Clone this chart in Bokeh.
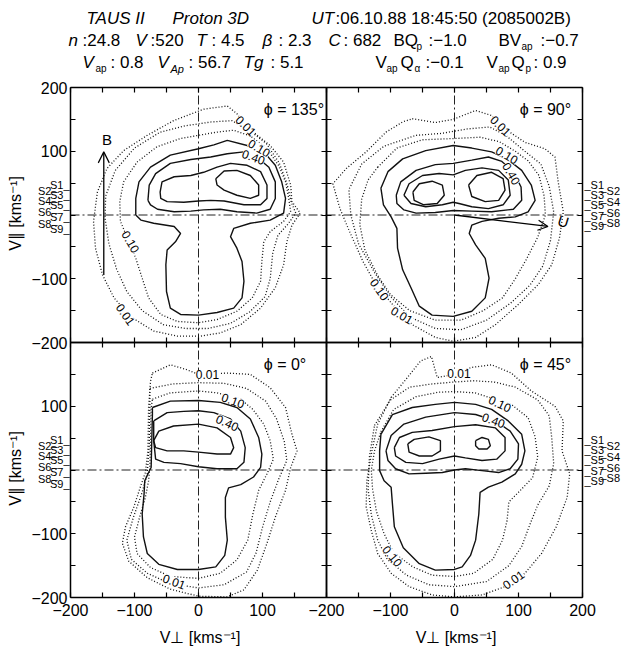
import math
from bokeh.plotting import figure
from bokeh.models import (Range1d, FixedTicker, LinearAxis, LabelSet, Label,
                          ColumnDataSource, Arrow, OpenHead)
from bokeh.transform import dodge
from bokeh.core.properties import value
from bokeh.embed import file_html
from bokeh.resources import INLINE

FONT = "Liberation Sans"

# ---------------------------------------------------------------- data
PANEL_KEYS = ["phi135", "phi90", "phi0", "phi45"]
PANEL_TITLES = ["\u03d5 = 135\u00b0", "\u03d5 = 90\u00b0", "\u03d5 = 0\u00b0", "\u03d5 = 45\u00b0"]

X_TICK_VALUES = [-200, -100, 0, 100, 200]
Y_TICK_VALUES = [-200, -100, 100, 200]
MINOR_STEP = 50

# contour polylines (V_perp, V_par) in km/s
PHI135_DOT_001 = [(8, 166), (45, 171), (60, 159), (74, 140), (92, 125), (112, 109), (133, 83), (144, 47),
                  (146, 21), (159, 3), (146, -16), (138, -42), (133, -78), (120, -114), (97, -146),
                  (66, -172), (34, -185), (3, -190), (-33, -190), (-70, -182), (-104, -161), (-132, -130),
                  (-150, -94), (-161, -52), (-164, -10), (-158, 36), (-143, 73), (-117, 101), (-80, 125),
                  (-39, 148), (8, 166)]
PHI135_DOT_003 = [(-130, 70), (-100, 105), (-60, 130), (-20, 140), (20, 146), (52, 148), (78, 134),
                  (106, 112), (126, 82), (138, 50), (145, 20), (152, 3), (140, -14), (124, -32), (116, -60),
                  (112, -100), (104, -128), (80, -152), (50, -170), (15, -178), (-20, -178), (-55, -172),
                  (-88, -150), (-112, -120), (-128, -85), (-140, -45), (-146, -5), (-145, 30), (-130, 70)]
PHI135_DOT_010 = [(-96, 83), (-65, 107), (-28, 120), (0, 125), (29, 130), (55, 133), (81, 124), (107, 104),
                  (125, 78), (136, 52), (141, 26), (144, 5), (133, -10), (112, -26), (102, -42), (99, -73),
                  (97, -104), (84, -130), (60, -151), (29, -164), (0, -169), (-33, -167), (-59, -156),
                  (-78, -130), (-88, -99), (-98, -68), (-111, -36), (-122, -10), (-123, 21), (-117, 52),
                  (-96, 83)]
PHI135_SOL_020 = [(-98, 0), (-98, 26), (-93, 52), (-75, 75), (-44, 94), (0, 104), (24, 110), (45, 117),
                  (76, 109), (102, 99), (120, 78), (130, 52), (136, 26), (133, 3), (112, -8), (81, -13),
                  (55, -21), (50, -34), (60, -52), (68, -73), (71, -104), (68, -130), (55, -146), (29, -153),
                  (0, -157), (-28, -156), (-44, -146), (-50, -120), (-51, -78), (-49, -55), (-36, -42),
                  (-28, -29), (-38, -18), (-70, -13), (-90, -8), (-98, 0)]
PHI135_SOL_040 = [(-79, 23), (-77, 47), (-67, 65), (-44, 81), (-12, 87), (19, 91), (45, 96), (71, 99),
                  (91, 91), (110, 75), (120, 52), (120, 26), (112, 9), (91, 3), (60, 5), (34, 9), (8, 8),
                  (-12, 6), (-38, 5), (-64, 9), (-75, 16), (-79, 23)]
PHI135_SOL_070 = [(-60, 36), (-57, 52), (-38, 60), (-12, 62), (8, 67), (29, 75), (50, 81), (76, 78),
                  (97, 68), (107, 47), (107, 26), (97, 16), (71, 16), (40, 22), (19, 23), (0, 22), (-23, 20),
                  (-49, 21), (-59, 26), (-60, 36)]
PHI135_SOL_090 = [(27, 57), (40, 69), (60, 70), (81, 62), (94, 47), (94, 31), (81, 26), (60, 31), (40, 39),
                  (29, 47), (27, 57)]

PHI90_DOT_001 = [(-66, 151), (-30, 145), (-2, 150), (33, 164), (58, 156), (72, 142), (82, 133), (110, 114),
                 (141, 104), (157, 91), (162, 52), (170, 5), (164, -36), (152, -78), (131, -109),
                 (100, -140), (64, -172), (33, -192), (-2, -198), (-30, -192), (-66, -172), (-97, -140),
                 (-123, -109), (-143, -73), (-164, -26), (-179, 10), (-190, 49), (-169, 73), (-138, 99),
                 (-107, 130), (-81, 146), (-66, 151)]
PHI90_DOT_003 = [(-60, 125), (-20, 128), (20, 135), (55, 138), (80, 125), (110, 100), (135, 80), (148, 45),
                 (155, 5), (150, -40), (138, -80), (118, -110), (88, -138), (50, -165), (10, -180),
                 (-30, -178), (-70, -160), (-100, -128), (-125, -90), (-150, -45), (-162, 0), (-165, 40),
                 (-145, 80), (-110, 108), (-60, 125)]
PHI90_DOT_010 = [(-120, 75), (-90, 105), (-50, 118), (0, 120), (40, 122), (70, 115), (95, 100), (115, 85),
                 (132, 62), (140, 30), (142, 0), (130, -35), (112, -70), (95, -100), (75, -130), (45, -150),
                 (10, -165), (-30, -165), (-70, -150), (-100, -125), (-120, -95), (-140, -55), (-148, -15),
                 (-145, 25), (-135, 55), (-120, 75)]
PHI90_SOL_020 = [(-115, 42), (-104, 68), (-81, 88), (-45, 101), (-2, 109), (27, 105), (58, 99), (82, 88),
                 (105, 70), (120, 47), (126, 23), (115, 5), (95, -3), (69, -5), (43, -10), (27, -16),
                 (23, -29), (33, -47), (48, -68), (54, -99), (48, -130), (27, -151), (-2, -159), (-35, -157),
                 (-55, -143), (-68, -114), (-81, -86), (-89, -52), (-90, -21), (-99, -3), (-111, 16),
                 (-115, 42)]
PHI90_SOL_040 = [(-91, 31), (-84, 52), (-60, 70), (-30, 79), (-2, 81), (27, 86), (53, 91), (74, 84),
                 (92, 68), (104, 44), (105, 23), (92, 9), (58, 5), (27, 6), (-2, 7), (-30, 4), (-60, 3),
                 (-79, 8), (-90, 18), (-91, 31)]
PHI90_SOL_070 = [(-79, 31), (-71, 49), (-50, 62), (-24, 65), (-2, 63), (17, 70), (43, 74), (69, 70),
                 (84, 55), (87, 31), (76, 16), (53, 10), (27, 13), (7, 18), (-2, 20), (-19, 16), (-45, 13),
                 (-68, 18), (-79, 31)]
PHI90_SOL_090A = [(-65, 36), (-55, 49), (-35, 53), (-19, 47), (-16, 31), (-27, 18), (-48, 16), (-63, 23),
                  (-65, 36)]
PHI90_SOL_090B = [(22, 47), (35, 62), (58, 67), (76, 57), (79, 39), (69, 23), (48, 21), (27, 29), (22, 47)]

PHI0_DOT_001 = [(-72, 152), (-44, 165), (-20, 158), (0, 150), (45, 152), (81, 150), (112, 129), (136, 98),
                (146, 56), (154, 30), (144, 4), (136, -32), (120, -74), (107, -115), (92, -157), (71, -188),
                (45, -199), (0, -198), (-44, -187), (-80, -169), (-109, -143), (-119, -115), (-114, -89),
                (-101, -58), (-91, -27), (-83, -4), (-79, 30), (-78, 98), (-75, 139), (-72, 152)]
PHI0_DOT_003 = [(-76, 128), (-40, 135), (0, 137), (40, 136), (75, 128), (105, 108), (122, 80), (134, 45),
                (138, 15), (125, -15), (112, -50), (100, -90), (90, -130), (75, -160), (40, -180), (0, -185),
                (-45, -178), (-80, -162), (-105, -140), (-112, -110), (-102, -75), (-88, -35), (-80, -5),
                (-77, 40), (-76, 100), (-76, 128)]
PHI0_DOT_010 = [(-72, 111), (-44, 121), (0, 124), (29, 121), (66, 111), (85, 95), (102, 72), (112, 46),
                (117, 17), (107, -6), (94, -32), (85, -69), (77, -110), (60, -141), (34, -162), (0, -170),
                (-44, -167), (-75, -153), (-96, -131), (-100, -105), (-92, -74), (-83, -43), (-78, -17),
                (-76, 4), (-75, 46), (-74, 98), (-72, 111)]
PHI0_SOL_020 = [(-72, 98), (-44, 108), (0, 109), (34, 106), (60, 98), (81, 80), (94, 51), (99, 25), (97, 4),
                (86, -11), (66, -23), (47, -28), (42, -43), (42, -74), (45, -110), (41, -134), (27, -152),
                (0, -156), (-33, -156), (-62, -148), (-80, -131), (-86, -105), (-88, -69), (-85, -37),
                (-84, -17), (-78, -4), (-74, 4), (-73, 46), (-72, 87), (-72, 98)]
PHI0_SOL_040 = [(-70, 77), (-49, 90), (-23, 92), (0, 93), (24, 90), (50, 80), (66, 61), (73, 35), (71, 12),
                (60, 2), (29, 2), (0, 5), (-28, 10), (-54, 12), (-67, 17), (-70, 46), (-70, 77)]
PHI0_SOL_070 = [(-70, 46), (-62, 61), (-39, 69), (0, 72), (29, 66), (50, 51), (55, 35), (50, 25), (29, 25),
                (0, 28), (-23, 30), (-49, 30), (-67, 35), (-70, 46)]

PHI45_DOT_001 = [(-99, 114), (-76, 142), (-53, 171), (-36, 178), (-27, 145), (0, 150), (27, 161), (58, 165),
                 (89, 152), (120, 124), (157, 100), (170, 77), (168, 30), (180, -6), (176, -43), (159, -89),
                 (136, -131), (110, -162), (79, -183), (43, -196), (0, -199), (-35, -196), (-71, -183),
                 (-99, -162), (-120, -131), (-130, -95), (-138, -58), (-137, -17), (-129, 30), (-120, 72),
                 (-99, 114)]
PHI45_DOT_003 = [(-125, 70), (-100, 110), (-70, 130), (-35, 135), (0, 138), (30, 140), (62, 138), (95, 130),
                 (130, 110), (148, 85), (152, 50), (155, 10), (148, -25), (130, -55), (118, -85),
                 (105, -120), (85, -150), (50, -175), (0, -183), (-40, -180), (-75, -165), (-105, -140),
                 (-120, -110), (-130, -70), (-135, -30), (-133, 20), (-125, 70)]
PHI45_DOT_010 = [(-115, 60), (-95, 95), (-60, 115), (-25, 122), (0, 123), (32, 121), (60, 112), (90, 102),
                 (115, 82), (126, 52), (130, 20), (122, -12), (100, -35), (85, -50), (82, -80), (75, -110),
                 (60, -140), (30, -162), (0, -167), (-35, -165), (-65, -152), (-95, -130), (-110, -100),
                 (-122, -65), (-128, -30), (-130, 0), (-125, 30), (-115, 60)]
PHI45_SOL_020 = [(-115, 56), (-97, 87), (-66, 98), (-30, 103), (0, 106), (33, 103), (58, 95), (84, 77),
                 (105, 56), (110, 30), (105, 9), (95, -6), (74, -19), (53, -27), (40, -35), (38, -69),
                 (33, -110), (25, -134), (12, -152), (0, -156), (-30, -157), (-55, -147), (-80, -122),
                 (-94, -89), (-97, -53), (-99, -27), (-110, -17), (-117, -1), (-117, 30), (-115, 56)]
PHI45_SOL_040 = [(-107, 30), (-99, 54), (-79, 72), (-45, 83), (0, 90), (33, 87), (64, 77), (87, 61),
                 (100, 41), (99, 17), (87, 2), (69, -4), (43, -1), (17, 2), (0, 0), (-19, -4), (-45, -5),
                 (-71, -6), (-92, 2), (-104, 15), (-107, 30)]
PHI45_SOL_070 = [(-94, 35), (-86, 51), (-66, 59), (-35, 62), (0, 68), (33, 71), (64, 66), (79, 51), (79, 30),
                 (66, 17), (43, 15), (17, 19), (0, 22), (-24, 17), (-50, 10), (-76, 12), (-92, 22), (-94, 35)]
PHI45_SOL_090A = [(-73, 41), (-63, 48), (-40, 52), (-22, 46), (-22, 30), (-35, 22), (-55, 22), (-71, 28),
                  (-73, 41)]
PHI45_SOL_090B = [(33, 46), (43, 51), (53, 48), (56, 38), (51, 33), (38, 33), (33, 38), (33, 46)]

CONTOURS = {
    "phi135": [("dot", PHI135_DOT_001), ("dot", PHI135_DOT_003), ("dot", PHI135_DOT_010),
               ("sol", PHI135_SOL_020), ("sol", PHI135_SOL_040), ("sol", PHI135_SOL_070),
               ("sol", PHI135_SOL_090)],
    "phi90": [("dot", PHI90_DOT_001), ("dot", PHI90_DOT_003), ("dot", PHI90_DOT_010),
              ("sol", PHI90_SOL_020), ("sol", PHI90_SOL_040), ("sol", PHI90_SOL_070),
              ("sol", PHI90_SOL_090A), ("sol", PHI90_SOL_090B)],
    "phi0": [("dot", PHI0_DOT_001), ("dot", PHI0_DOT_003), ("dot", PHI0_DOT_010),
             ("sol", PHI0_SOL_020), ("sol", PHI0_SOL_040), ("sol", PHI0_SOL_070)],
    "phi45": [("dot", PHI45_DOT_001), ("dot", PHI45_DOT_003), ("dot", PHI45_DOT_010),
              ("sol", PHI45_SOL_020), ("sol", PHI45_SOL_040), ("sol", PHI45_SOL_070),
              ("sol", PHI45_SOL_090A), ("sol", PHI45_SOL_090B)],
}

# contour level labels: text, V_perp, V_par, angle (deg)
LEVEL_TEXT = {
    "phi135": ["0.01", "0.10", "0.40", "0.10", "0.01"],
    "phi90": ["0.01", "0.10", "0.40", "0.10", "0.01"],
    "phi0": ["0.01", "0.10", "0.40", "0.01"],
    "phi45": ["0.01", "0.10", "0.40", "0.10", "0.01"],
}
LEVEL_X = {"phi135": [74, 95, 86, -106, -114], "phi90": [72, 82, 89, -117, -82],
           "phi0": [14, 54, 45, -38], "phi45": [7, 71, 61, -97, 92]}
LEVEL_Y = {"phi135": [140, 105, 91, -42, -156], "phi90": [140, 94, 65, -117, -157],
           "phi0": [150, 109, 74, -175], "phi45": [152, 104, 78, -135, -172]}
LEVEL_ANGLE = {"phi135": [-45, -30, -20, -60, -55], "phi90": [-45, -30, -60, -55, -30],
               "phi0": [0, -20, -25, -20], "phi45": [0, -25, -20, -50, 35]}

# field / flow direction arrows
B_ARROW = dict(x0=[-148], y0=[-94], x1=[-148], y1=[99])
U_ARROW = dict(x0=[0], y0=[0], x1=[146], y1=[-18])

# sensor direction marks
S_ODD = ["S1", "S3", "S5", "S7", "S9"]
S_EVEN = ["S2", "S4", "S6", "S8"]
S_LEFT_ODD_Y = [47, 31, 15, -3, -22]
S_LEFT_EVEN_Y = [37, 22, 5, -14]
S_RIGHT_ODD_Y = [47, 32, 15, -1, -17]
S_RIGHT_EVEN_Y = [37, 20, 3, -13]

# header (text, x px, y px, kind)
HEADER = [
    ("TAUS II", 86, 18, "i"), ("Proton 3D", 172, 18, "i"), ("UT", 311, 18, "i"),
    (":06.10.88 18:45:50 (2085002B)", 335, 18, "n"),
    ("n", 68, 40, "i"), (":24.8", 82, 40, "n"), ("V", 135, 40, "i"), (":520", 150, 40, "n"),
    ("T", 196, 40, "i"), (": 4.5", 211, 40, "n"), ("\u03b2", 262, 40, "i"), (": 2.3", 278, 40, "n"),
    ("C", 328, 40, "i"), (": 682", 343, 40, "n"), ("BQ", 393, 40, "n"), ("p", 416, 46, "s"),
    (":\u22121.0", 428, 40, "n"), ("BV", 498, 40, "n"), ("ap", 521, 46, "s"), (":\u22120.7", 540, 40, "n"),
    ("V", 82, 62, "i"), ("ap", 95, 68, "s"), (": 0.8", 110, 62, "n"), ("V", 157, 62, "i"),
    ("Ap", 170, 68, "si"), (": 56.7", 188, 62, "n"), ("Tg", 243, 62, "i"), (": 5.1", 270, 62, "n"),
    ("V", 375, 62, "n"), ("ap", 386, 68, "s"), ("Q", 400, 62, "n"), ("\u03b1", 414, 68, "s"),
    (":\u22120.1", 425, 62, "n"), ("V", 486, 62, "n"), ("ap", 498, 68, "s"), ("Q", 511, 62, "n"),
    ("p", 525, 68, "s"), (": 0.9", 533, 62, "n"),
]

# ---------------------------------------------------------------- layout
W, H = 626, 654
ML, MR, MT, MB = 70, 44, 87, 57          # margins around the 2x2 panel block
SPAN = (-200, 600)                        # panel block in (dodged) data units
SX = (W - ML - MR) / (SPAN[1] - SPAN[0])
SY = (H - MT - MB) / (SPAN[1] - SPAN[0])
XR = (SPAN[0] - ML / SX, SPAN[1] + MR / SX)
YR = (SPAN[0] - MB / SY, SPAN[1] + MT / SY)
OFFSET = {"phi135": (0, 400), "phi90": (400, 400), "phi0": (0, 0), "phi45": (400, 0)}


def px_x(px):
    return XR[0] + px / SX


def px_y(py):
    return YR[1] - py / SY


def fmt(v):
    return str(v).replace("-", "\u2212")


p = figure(width=W, height=H, x_range=Range1d(*XR), y_range=Range1d(*YR),
           output_backend="svg", toolbar_location=None, tools="", title=None,
           x_axis_type=None, y_axis_type=None,
           min_border_left=0, min_border_right=0, min_border_top=0, min_border_bottom=0)
p.xgrid.visible = False
p.ygrid.visible = False
p.outline_line_color = None
p.background_fill_color = "white"
p.border_fill_color = "white"

all_ticks = list(range(SPAN[0], SPAN[1] + 1, MINOR_STEP))
x_labels = {}
for ox in (0, 400):
    for t in X_TICK_VALUES:
        x_labels[t + ox] = fmt(t)
x_major = sorted(x_labels)
y_labels = {}
for oy in (0, 400):
    for t in Y_TICK_VALUES:
        y_labels[t + oy] = fmt(t)
y_major = sorted(y_labels)


def make_axis(side, loc, major, labels):
    ax = LinearAxis(fixed_location=loc, bounds=SPAN)
    ax.ticker = FixedTicker(ticks=major, minor_ticks=[t for t in all_ticks if t not in major])
    if labels:
        ax.major_label_overrides = labels
    ax.major_tick_in = 5
    ax.major_tick_out = 0
    ax.minor_tick_in = 5
    ax.minor_tick_out = 0
    ax.major_tick_line_width = 1.2
    ax.minor_tick_line_width = 1.2
    ax.axis_line_width = 1.5
    ax.major_label_text_font = FONT
    ax.major_label_text_font_size = "16px"
    ax.major_label_text_color = "black"
    p.add_layout(ax, side)
    return ax


left = make_axis("left", SPAN[0], y_major, y_labels)
left.major_label_standoff = 3
bottom = make_axis("below", SPAN[0], x_major, x_labels)
bottom.major_label_standoff = 6
make_axis("above", SPAN[1], [], None)
make_axis("right", SPAN[1], [], None)
mid = (SPAN[0] + SPAN[1]) / 2
make_axis("left", mid, [], None)
make_axis("right", mid, [], None)
make_axis("below", mid, [], None)
make_axis("above", mid, [], None)

# cross-hairs through every panel origin
for key in PANEL_KEYS:
    ox, oy = OFFSET[key]
    cs = ColumnDataSource(dict(x0=[X_TICK_VALUES[0], 0], y0=[0, X_TICK_VALUES[0]],
                               x1=[X_TICK_VALUES[-1], 0], y1=[0, X_TICK_VALUES[-1]]))
    p.segment(x0=dodge("x0", ox), y0=dodge("y0", oy), x1=dodge("x1", ox), y1=dodge("y1", oy),
              source=cs, line_color="#222222", line_width=1, line_dash="9 3 2 3")

# contours
for key in PANEL_KEYS:
    ox, oy = OFFSET[key]
    for kind, pts in CONTOURS[key]:
        src = ColumnDataSource(dict(x=[a for a, b in pts], y=[b for a, b in pts]))
        if kind == "dot":
            p.line(x=dodge("x", ox), y=dodge("y", oy), source=src, line_color="#111111",
                   line_width=1.3, line_dash="1 2")
        else:
            p.line(x=dodge("x", ox), y=dodge("y", oy), source=src, line_color="#111111",
                   line_width=1.4)
    lsrc = ColumnDataSource(dict(x=LEVEL_X[key], y=LEVEL_Y[key], text=LEVEL_TEXT[key],
                                 angle=[math.radians(a) for a in LEVEL_ANGLE[key]]))
    p.add_layout(LabelSet(x=dodge("x", ox), y=dodge("y", oy), text="text", angle="angle",
                          source=lsrc, text_align="center", text_baseline="middle",
                          text_font=value(FONT), text_font_size="12px", text_color="black",
                          background_fill_color="white"))

# panel titles
for key, title in zip(PANEL_KEYS, PANEL_TITLES):
    ox, oy = OFFSET[key]
    p.add_layout(Label(x=102 + ox, y=166 + oy, text=title, text_align="left", text_baseline="middle",
                       text_font=FONT, text_font_size="16px", text_color="black"))

# arrows
ox, oy = OFFSET["phi135"]
p.add_layout(Arrow(end=OpenHead(size=11, line_width=1.2), line_width=1.3,
                   x_start=dodge("x0", ox), y_start=dodge("y0", oy),
                   x_end=dodge("x1", ox), y_end=dodge("y1", oy), source=ColumnDataSource(B_ARROW)))
p.add_layout(Label(x=B_ARROW["x1"][0] + 5 + ox, y=B_ARROW["y1"][0] + 20 + oy, text="B",
                   text_align="center", text_baseline="middle", text_font=FONT, text_font_size="15px",
                   text_color="black"))
ox, oy = OFFSET["phi90"]
p.add_layout(Arrow(end=OpenHead(size=10, line_width=1.2), line_width=1.3,
                   x_start=dodge("x0", ox), y_start=dodge("y0", oy),
                   x_end=dodge("x1", ox), y_end=dodge("y1", oy), source=ColumnDataSource(U_ARROW)))
p.add_layout(Label(x=U_ARROW["x1"][0] + 24 + ox, y=U_ARROW["y1"][0] + 8 + oy, text="U", angle=-0.3,
                   text_align="center", text_baseline="middle", text_font=FONT, text_font_size="15px",
                   text_color="black"))

# axis titles
for oy in (0, 400):
    p.add_layout(Label(x=px_x(15), y=oy, text="V\u2225 [kms\u207b\u00b9]", angle=math.pi / 2,
                       text_align="center", text_baseline="middle", text_font=FONT,
                       text_font_size="16px", text_color="black"))
for ox in (0, 400):
    p.add_layout(Label(x=ox, y=px_y(637), text="V\u22a5 [kms\u207b\u00b9]",
                       text_align="center", text_baseline="middle", text_font=FONT,
                       text_font_size="16px", text_color="black"))

# sensor marks
S_STYLE = dict(text_baseline="middle", text_font=value(FONT), text_font_size="11px", text_color="black")
for oy in (0, 400):
    p.add_layout(LabelSet(source=ColumnDataSource(dict(x=[px_x(69)] * 5, y=[v + oy for v in S_LEFT_ODD_Y],
                                                       t=[s + "_" for s in S_ODD])),
                          x="x", y="y", text="t", text_align="right", **S_STYLE))
    p.add_layout(LabelSet(source=ColumnDataSource(dict(x=[px_x(57)] * 4, y=[v + oy for v in S_LEFT_EVEN_Y],
                                                       t=[s + "\u2013" for s in S_EVEN])),
                          x="x", y="y", text="t", text_align="right", **S_STYLE))
    p.add_layout(LabelSet(source=ColumnDataSource(dict(x=[px_x(584)] * 5, y=[v + oy for v in S_RIGHT_ODD_Y],
                                                       t=["_" + s for s in S_ODD])),
                          x="x", y="y", text="t", text_align="left", **S_STYLE))
    p.add_layout(LabelSet(source=ColumnDataSource(dict(x=[px_x(600)] * 4, y=[v + oy for v in S_RIGHT_EVEN_Y],
                                                       t=["\u2013" + s for s in S_EVEN])),
                          x="x", y="y", text="t", text_align="left", **S_STYLE))

# header
KIND_STYLE = {"n": ("normal", "17px"), "i": ("italic", "17px"), "s": ("normal", "10px"),
              "si": ("italic", "11px")}
for kind, (fstyle, fsize) in KIND_STYLE.items():
    items = [h for h in HEADER if h[3] == kind]
    src = ColumnDataSource(dict(x=[px_x(h[1]) for h in items], y=[px_y(h[2]) for h in items],
                                t=[h[0] for h in items]))
    p.add_layout(LabelSet(source=src, x="x", y="y", text="t", text_align="left", text_baseline="middle",
                          text_font=value(FONT), text_font_size=fsize, text_font_style=fstyle,
                          text_color="black"))

open("out.html", "w").write(file_html(p, INLINE))
